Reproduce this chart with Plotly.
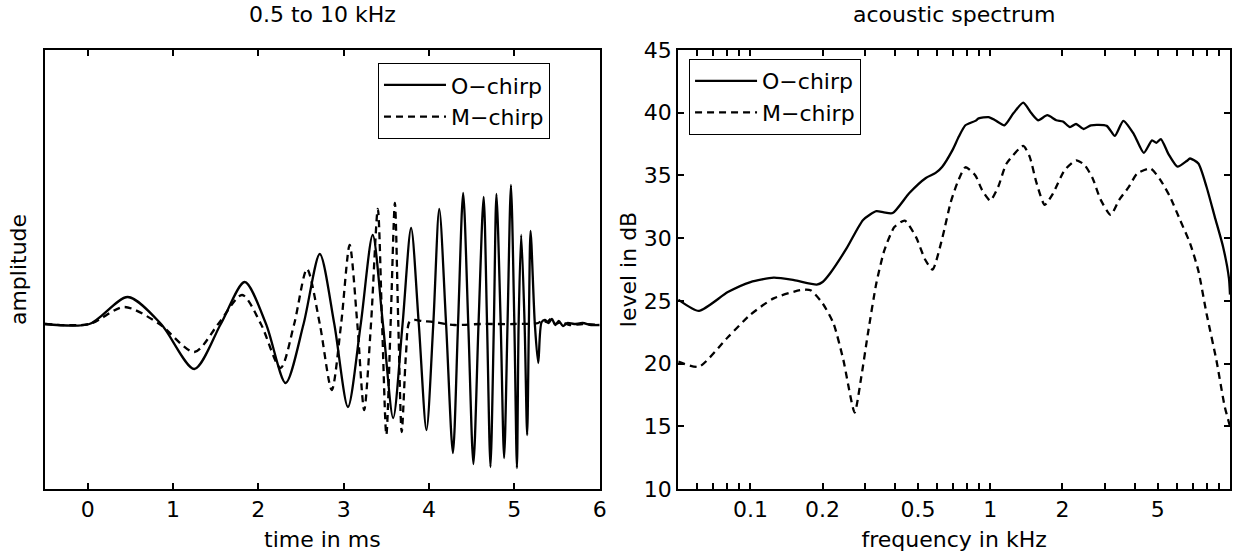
import plotly.graph_objects as go
import numpy as np

# ---------------- data: time signal (left panel) ----------------
time_o = [-0.5, 0.02, 0.47, 0.86, 1.25, 1.56, 1.84, 2.09, 2.32, 2.53, 2.72, 2.89,
          3.05, 3.20, 3.34, 3.46, 3.58, 3.69, 3.79, 3.88, 3.97, 4.05, 4.12, 4.20,
          4.28, 4.34, 4.40, 4.46, 4.52, 4.58, 4.64, 4.68, 4.72, 4.76, 4.79, 4.84,
          4.88, 4.92, 4.96, 5.00, 5.03, 5.05, 5.08, 5.12, 5.15, 5.17, 5.19, 5.24,
          5.28, 5.32, 5.36, 5.40, 5.44, 5.48, 5.52, 5.57, 5.62, 5.70, 5.80, 5.90, 6.0]
amp_o = [0.0, 0.0, 0.27, 0.0, -0.45, 0.0, 0.42, 0.0, -0.59, 0.0, 0.70, 0.0,
         -0.83, 0.0, 0.89, 0.0, -0.94, 0.0, 0.96, 0.0, -1.06, 0.0, 1.15, 0.0,
         -1.29, 0.0, 1.31, 0.0, -1.40, 0.0, 1.27, 0.0, -1.43, 0.0, 1.30, 0.0,
         -1.34, 0.0, 1.39, 0.0, -1.44, 0.0, 0.89, 0.0, -1.11, 0.0, 0.93, 0.0,
         -0.39, 0.02, 0.04, 0.01, 0.05, -0.01, 0.03, -0.02, 0.01, 0.0, 0.01, -0.01, -0.01]

time_m = [-0.5, 0.02, 0.43, 0.84, 1.25, 1.53, 1.81, 2.03, 2.26, 2.42, 2.57, 2.72,
          2.86, 2.97, 3.07, 3.16, 3.24, 3.32, 3.40, 3.45, 3.50, 3.55, 3.60, 3.64,
          3.68, 3.73, 3.77, 3.83, 3.92, 4.05, 4.30, 4.60, 5.00, 5.28, 5.33, 5.38,
          5.43, 5.48, 5.55, 5.65, 5.80, 6.0]
amp_m = [0.0, 0.0, 0.17, 0.0, -0.28, 0.0, 0.29, 0.0, -0.44, 0.0, 0.55, 0.0,
         -0.66, 0.0, 0.79, 0.0, -0.86, 0.0, 1.15, 0.0, -1.11, 0.0, 1.21, 0.0,
         -1.08, -0.30, 0.02, 0.04, 0.03, 0.02, -0.01, 0.0, 0.0, 0.01, 0.04, 0.02,
         0.05, 0.0, 0.02, -0.01, 0.0, -0.01]

# ---------------- data: acoustic spectrum (right panel) ----------------
freq_o = [0.05, 0.061, 0.0805, 0.1, 0.125, 0.152, 0.189, 0.2, 0.215, 0.252, 0.295,
          0.335, 0.36, 0.392, 0.46, 0.539, 0.592, 0.631, 0.695, 0.74, 0.788, 0.867,
          0.895, 0.984, 1.049, 1.146, 1.249, 1.373, 1.486, 1.585, 1.73, 1.886, 2.01,
          2.15, 2.28, 2.45, 2.63, 3.06, 3.31, 3.59, 3.97, 4.37, 4.73, 4.93, 5.15,
          5.54, 6.04, 6.6, 6.81, 7.38, 7.98, 8.64, 9.36, 9.9, 10.0]
level_o = [25.1, 24.2, 25.7, 26.5, 26.85, 26.65, 26.3, 26.5, 27.2, 29.2, 31.45,
           32.15, 32.05, 32.0, 33.6, 34.8, 35.2, 35.7, 37.0, 38.1, 39.0, 39.35,
           39.55, 39.65, 39.4, 39.0, 39.95, 40.8, 39.95, 39.4, 39.8, 39.4, 39.3,
           38.85, 39.1, 38.7, 39.0, 38.95, 38.15, 39.35, 38.3, 36.8, 37.8, 37.6, 37.9,
           36.7, 35.7, 36.15, 36.35, 35.95, 34.1, 31.7, 29.3, 26.8, 25.5]

freq_m = [0.05, 0.061, 0.0805, 0.1, 0.125, 0.161, 0.178, 0.2, 0.222, 0.244, 0.272,
          0.29, 0.309, 0.335, 0.362, 0.399, 0.44, 0.49, 0.535, 0.575, 0.631, 0.683,
          0.729, 0.788, 0.867, 0.924, 1.0, 1.08, 1.17, 1.373, 1.46, 1.56, 1.687,
          1.826, 2.04, 2.28, 2.47, 2.67, 2.89, 3.18, 3.45, 3.79, 4.1, 4.66, 5.12,
          5.62, 6.19, 6.81, 7.38, 7.98, 8.77, 9.5, 10.0]
level_m = [20.15, 19.75, 22.1, 23.9, 25.2, 25.85, 25.85, 24.8, 23.2, 20.3, 16.1,
           18.95, 22.4, 26.4, 29.05, 30.9, 31.4, 30.1, 28.3, 27.5, 30.0, 32.8,
           34.4, 35.65, 35.0, 33.85, 33.0, 34.1, 35.95, 37.35, 36.5, 34.4, 32.65,
           33.55, 35.4, 36.2, 35.85, 34.8, 33.05, 31.85, 33.05, 34.1, 35.15, 35.55, 34.65,
           33.3, 31.45, 29.6, 27.4, 24.0, 20.3, 16.6, 15.0]

# tick definitions
time_ticks = [0, 1, 2, 3, 4, 5, 6]
freq_tickvals = [0.06, 0.07, 0.08, 0.09, 0.1, 0.2, 0.3, 0.4, 0.5, 0.6, 0.7, 0.8, 0.9,
                 1, 2, 3, 4, 5, 6, 7, 8, 9]
freq_labels = {0.1: "0.1", 0.2: "0.2", 0.5: "0.5", 1: "1", 2: "2", 5: "5"}
freq_ticktext = [freq_labels.get(v, "") for v in freq_tickvals]
level_ticks = [10, 15, 20, 25, 30, 35, 40, 45]

FONT = "DejaVu Sans"
FS = 22
LW = 2.3
solid = dict(color="black", width=LW, shape="spline", smoothing=0.8)
dashed = dict(color="black", width=LW, dash="7px,5px", shape="spline", smoothing=0.8)
spec_solid = dict(color="black", width=LW, shape="spline", smoothing=0.6)
spec_dashed = dict(color="black", width=LW, dash="7px,5px", shape="spline", smoothing=0.6)

fig = go.Figure()
fig.add_trace(go.Scatter(x=time_o, y=amp_o, mode="lines", line=solid, name="O−chirp",
                         xaxis="x", yaxis="y", legend="legend"))
fig.add_trace(go.Scatter(x=time_m, y=amp_m, mode="lines", line=dashed, name="M−chirp",
                         xaxis="x", yaxis="y", legend="legend"))
fig.add_trace(go.Scatter(x=freq_o, y=level_o, mode="lines", line=spec_solid, name="O−chirp",
                         xaxis="x2", yaxis="y2", legend="legend2"))
fig.add_trace(go.Scatter(x=freq_m, y=level_m, mode="lines", line=spec_dashed, name="M−chirp",
                         xaxis="x2", yaxis="y2", legend="legend2"))

axis_common = dict(showline=True, linecolor="black", linewidth=2, showgrid=False,
                   zeroline=False, ticks="inside", ticklen=6, tickwidth=1.5,
                   tickcolor="black", mirror="ticks",
                   tickfont=dict(family=FONT, size=FS, color="black"))

fig.update_layout(
    width=1239, height=552,
    margin=dict(l=45, r=2, t=50, b=63),
    paper_bgcolor="white", plot_bgcolor="white",
    font=dict(family=FONT, size=FS, color="black"),
    xaxis=dict(domain=[0, 0.4681], anchor="y", range=[-0.5, 6], tickvals=time_ticks,
               title=dict(text="time in ms", standoff=10, font=dict(size=FS)), **axis_common),
    yaxis=dict(domain=[0, 1], anchor="x", range=[-1.65, 2.74], showticklabels=False,
               showline=True, linecolor="black", linewidth=2, showgrid=False,
               zeroline=False, ticks="", mirror=True,
               title=dict(text="amplitude", standoff=10, font=dict(size=FS))),
    xaxis2=dict(domain=[0.5344, 1], anchor="y2", type="log",
                range=[np.log10(0.05), 1.0], tickvals=freq_tickvals, ticktext=freq_ticktext,
                title=dict(text="frequency in kHz", standoff=10, font=dict(size=FS)),
                **axis_common),
    yaxis2=dict(domain=[0, 1], anchor="x2", range=[10, 45], tickvals=level_ticks,
                title=dict(text="level in dB", standoff=1, font=dict(size=FS)),
                **axis_common),
    legend=dict(x=0.281, y=0.970, xanchor="left", yanchor="top", bgcolor="white",
                bordercolor="black", borderwidth=1, font=dict(family=FONT, size=FS),
                itemwidth=62, tracegroupgap=0),
    legend2=dict(x=0.5435, y=0.9795, xanchor="left", yanchor="top", bgcolor="white",
                 bordercolor="black", borderwidth=1, font=dict(family=FONT, size=FS),
                 itemwidth=62, tracegroupgap=0),
    annotations=[
        dict(text="0.5 to 10 kHz", x=0.234, y=1, xref="paper", yref="paper",
             xanchor="center", yanchor="middle", yshift=36, showarrow=False,
             font=dict(family=FONT, size=FS)),
        dict(text="acoustic spectrum", x=0.7672, y=1, xref="paper", yref="paper",
             xanchor="center", yanchor="middle", yshift=36, showarrow=False,
             font=dict(family=FONT, size=FS)),
    ],
)

fig.write_html("out.html")
